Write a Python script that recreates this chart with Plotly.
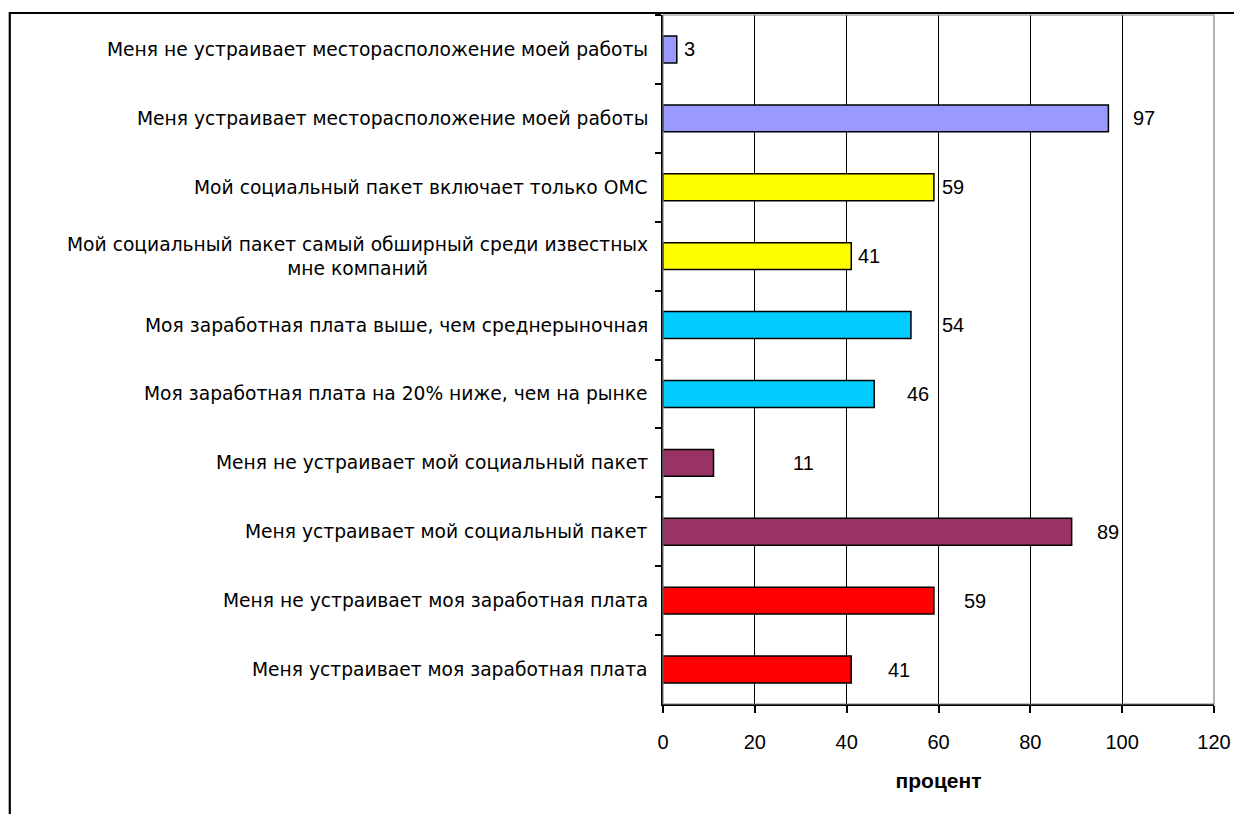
import plotly.graph_objects as go

# Survey statements, listed top to bottom
categories = [
    "Меня не устраивает месторасположение моей работы",
    "Меня устраивает месторасположение моей работы",
    "Мой социальный пакет включает только ОМС",
    "Мой социальный пакет самый обширный среди известных<br>мне компаний",
    "Моя заработная плата выше, чем среднерыночная",
    "Моя заработная плата на 20% ниже, чем на рынке",
    "Меня не устраивает мой социальный пакет",
    "Меня устраивает мой социальный пакет",
    "Меня не устраивает моя заработная плата",
    "Меня устраивает моя заработная плата",
]
percent = [3, 97, 59, 41, 54, 46, 11, 89, 59, 41]

x_ticks = [0, 20, 40, 60, 80, 100, 120]
x_title = "процент"

# Styling: bar colours per statement group and label pixel shifts
bar_colors = ["#9999FF", "#9999FF", "#FFFF00", "#FFFF00", "#00CCFF",
              "#00CCFF", "#993366", "#993366", "#FF0000", "#FF0000"]
label_shift = [13, 36, 19, 18, 42, 44, 90, 36, 41, 48]

FONT = "Liberation Sans, Arial, sans-serif"
CAT_FONT = "DejaVu Sans, sans-serif"

fig = go.Figure(
    go.Bar(
        x=percent,
        y=categories,
        orientation="h",
        marker=dict(color=bar_colors, line=dict(color="black", width=1.5)),
        width=0.39,
        hoverinfo="x+y",
    )
)

# Value labels beside bars
for cat, val, dx in zip(categories, percent, label_shift):
    fig.add_annotation(
        x=val, y=cat, xref="x", yref="y", text=str(val), showarrow=False,
        xanchor="center", yanchor="middle", xshift=dx,
        font=dict(family=FONT, size=20, color="black"),
    )

# Statement labels left of the axis
for cat in categories:
    fig.add_annotation(
        x=0, y=cat, xref="paper", yref="y", text=cat, showarrow=False,
        xanchor="right", yanchor="middle", xshift=-13, align="center",
        font=dict(family=CAT_FONT, size=18.7, color="black"),
    )

# Outer chart frame and grey plot frame
fig.add_shape(type="rect", xref="paper", yref="paper",
              x0=-1.1855, x1=1.06, y0=-0.17, y1=1.0029,
              line=dict(color="black", width=2.2), layer="above")
fig.add_shape(type="rect", xref="paper", yref="paper",
              x0=0, x1=1, y0=0, y1=1,
              line=dict(color="#808080", width=1.2), layer="above")

fig.update_layout(
    width=1234, height=814,
    margin=dict(l=663, r=20, t=15, b=110),
    paper_bgcolor="white", plot_bgcolor="white",
    showlegend=False,
    font=dict(family=FONT, color="black"),
    xaxis=dict(
        range=[0, 120], tickvals=x_ticks, ticktext=[str(v) for v in x_ticks],
        automargin=False,
        showgrid=True, gridcolor="black", gridwidth=1,
        showline=True, linecolor="black", linewidth=1.5,
        ticks="outside", ticklen=7, tickcolor="black", tickwidth=1.5,
        ticklabelstandoff=12,
        tickfont=dict(family=FONT, size=20, color="black"),
        zeroline=False,
        title=dict(text="<b>" + x_title + "</b>", standoff=22,
                   font=dict(family=FONT, size=21, color="black")),
    ),
    yaxis=dict(
        autorange="reversed", showticklabels=False, automargin=False,
        showline=True, linecolor="black", linewidth=1.5,
        ticks="outside", tickson="boundaries", ticklen=6,
        tickcolor="black", tickwidth=1.5, showgrid=False,
    ),
)

fig.write_html("out.html")
